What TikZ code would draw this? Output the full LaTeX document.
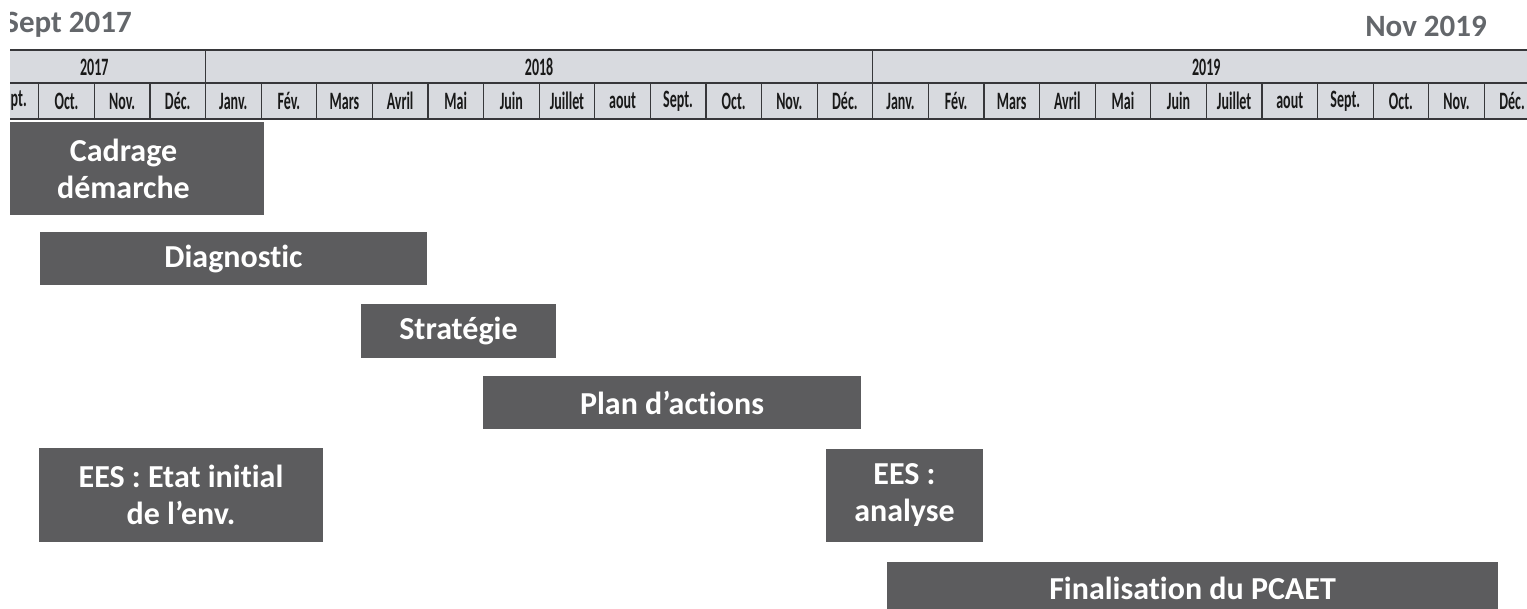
\documentclass[tikz,border=0pt]{standalone}
\usepackage{fontspec}
\setmainfont[Ligatures=NoCommon]{Carlito}
\newfontfamily\narrowfont[FakeStretch=0.56,Ligatures=NoCommon]{Carlito}
\definecolor{barfill}{RGB}{92,92,94}
\definecolor{headfill}{RGB}{216,218,223}
\definecolor{gridline}{RGB}{55,55,58}
\definecolor{titlegray}{RGB}{100,103,107}
\begin{document}
\begin{tikzpicture}[x=1pt,y=-1pt,
  bar/.style={fill=barfill, draw=none, inner sep=0pt, text=white, align=center,
    font=\bfseries\fontsize{32}{37}\selectfont},
  monthlbl/.style={inner sep=0pt, text=black!90, font=\narrowfont\bfseries\fontsize{25}{25}\selectfont},
  yearlbl/.style={inner sep=0pt, text=black!90, font=\narrowfont\bfseries\fontsize{25}{25}\selectfont},
  titlelbl/.style={inner sep=0pt, text=titlegray, font=\bfseries\fontsize{31}{31}\selectfont},
  grid/.style={draw=gridline, line width=1.2pt}]
\useasboundingbox (0,0) rectangle (1527,609);
\begin{scope}
\clip (10,0) rectangle (1527,609);
% titles
\node[titlelbl, anchor=base east] (start) at (132,33) {Sept 2017};
\node[titlelbl, anchor=base east] (end) at (1487,37) {Nov 2019};
% header table
\fill[headfill] (10,50) rectangle (1527,119);
\draw[grid, line width=1.6pt] (10,50) -- (1527,50);
\draw[grid, line width=1.6pt] (10,83) -- (1527,83);
\draw[grid, line width=1.6pt] (10,119) -- (1527,119);
\draw[grid] (205.5,50) -- (205.5,83);
\draw[grid] (872.7,50) -- (872.7,83);
\foreach \m in {1,...,27}{
  \draw[grid] ({38.7+(\m-1)*55.6},83) -- ({38.7+(\m-1)*55.6},119);
}
\node[yearlbl] (y2017) at (94.3,67) {2017};
\node[yearlbl] (y2018) at (539.1,67) {2018};
\node[yearlbl] (y2019) at (1206.3,67) {2019};
\node[monthlbl, anchor=east] (m0) at (27,101) {pt.};
\foreach \lbl [count=\i from 1] in {Oct.,Nov.,Déc.,Janv.,Fév.,Mars,Avril,Mai,Juin,Juillet,aout,Sept.,Oct.,Nov.,Déc.,Janv.,Fév.,Mars,Avril,Mai,Juin,Juillet,aout,Sept.,Oct.,Nov.,Déc.}{
  \node[monthlbl] (m\i) at ({38.7+(\i-0.5)*55.6},101) {\lbl};
}
% bars
\node[bar, minimum width=281pt, minimum height=93pt] (cadrage) at (123.5,168.5) {Cadrage\\démarche};
\node[bar, minimum width=387pt, minimum height=53pt] (diag) at (233.5,258.5) {Diagnostic};
\node[bar, minimum width=195pt, minimum height=54pt] (strat) at (458.5,331) {Stratégie};
\node[bar, minimum width=378pt, minimum height=53pt] (plan) at (672,402.5) {Plan d’actions};
\node[bar, minimum width=284pt, minimum height=94pt] (eesinit) at (181,495) {EES : Etat initial\\de l’env.};
\node[bar, minimum width=157pt, minimum height=93pt] (eesana) at (904.5,495.5) {EES :\\analyse};
\node[bar, minimum width=611pt, minimum height=53pt] (final) at (1192.5,588.5) {Finalisation du PCAET};
\end{scope}
\end{tikzpicture}
\end{document}
